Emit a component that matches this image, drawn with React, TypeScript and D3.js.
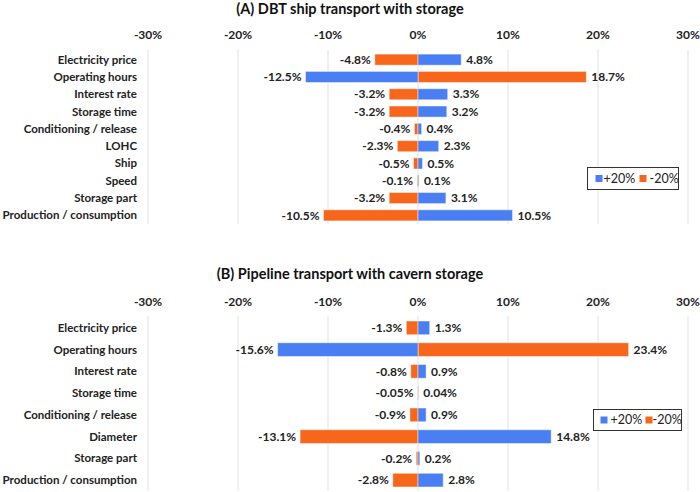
import React from "react";
import * as d3 from "d3";

const ticks = [-30, -20, -10, 0, 10, 20, 30];
const seriesNames = ["+20%", "-20%"];

const titleA = "(A) DBT ship transport with storage";
const catsA = ["Electricity price", "Operating hours", "Interest rate", "Storage time", "Conditioning / release", "LOHC", "Ship", "Speed", "Storage part", "Production / consumption"];
const plusA = [4.8, -12.5, 3.3, 3.2, 0.4, 2.3, 0.5, 0.1, 3.1, 10.5];
const minusA = [-4.8, 18.7, -3.2, -3.2, -0.4, -2.3, -0.5, -0.1, -3.2, -10.5];
const labelsPlusA = ["4.8%", "-12.5%", "3.3%", "3.2%", "0.4%", "2.3%", "0.5%", "0.1%", "3.1%", "10.5%"];
const labelsMinusA = ["-4.8%", "18.7%", "-3.2%", "-3.2%", "-0.4%", "-2.3%", "-0.5%", "-0.1%", "-3.2%", "-10.5%"];

const titleB = "(B) Pipeline transport with cavern storage";
const catsB = ["Electricity price", "Operating hours", "Interest rate", "Storage time", "Conditioning / release", "Diameter", "Storage part", "Production / consumption"];
const plusB = [1.3, -15.6, 0.9, 0.04, 0.9, 14.8, 0.2, 2.8];
const minusB = [-1.3, 23.4, -0.8, -0.05, -0.9, -13.1, -0.2, -2.8];
const labelsPlusB = ["1.3%", "-15.6%", "0.9%", "0.04%", "0.9%", "14.8%", "0.2%", "2.8%"];
const labelsMinusB = ["-1.3%", "23.4%", "-0.8%", "-0.05%", "-0.9%", "-13.1%", "-0.2%", "-2.8%"];

const BLUE = "#4a7ef3";
const ORANGE = "#f7661b";
const FONT = "Lato, 'Open Sans', sans-serif";

type PanelProps = {
  title: string;
  cats: string[];
  plus: number[];
  minus: number[];
  lp: string[];
  lm: string[];
  titleY: number;
  tickY: number;
  top: number;
  bottom: number;
  pad: number;
  legend: { x: number; y: number; w: number; h: number; s1: number; t1: number; s2: number; t2: number };
};

function Panel(p: PanelProps) {
  const x = d3.scaleLinear().domain([-30, 30]).range([148, 688]);
  const y = d3.scaleBand<string>().domain(p.cats).range([p.top, p.bottom]).paddingInner(p.pad).paddingOuter(p.pad / 2);
  const bw = y.bandwidth();
  const bar = (v: number, c: string, col: string) => (
    <rect key={c + col} x={x(Math.min(0, v))} y={y(c)!} width={Math.abs(x(v) - x(0))} height={bw} fill={col} stroke="#ffffff" strokeOpacity={0.45} strokeWidth={1} />
  );
  const label = (v: number, t: string, c: string, k: string) => (
    <text key={k} x={v < 0 ? x(v) - 4 : x(v) + 5} y={y(c)! + bw / 2} dy="0.35em" textAnchor={v < 0 ? "end" : "start"} fontWeight="bold" fontSize={12} fill="#222">{t}</text>
  );
  const L = p.legend;
  return (
    <g fontFamily={FONT}>
      <text x={350} y={p.titleY} textAnchor="middle" fontWeight="bold" fontSize={14.5} fill="#111">{p.title}</text>
      {ticks.map((t) => (
        <g key={t}>
          <line x1={x(t)} x2={x(t)} y1={p.top - 1} y2={p.bottom} stroke="#dde3e8" strokeWidth={1} />
          <text x={x(t)} y={p.tickY} dy="0.35em" textAnchor="middle" fontWeight="bold" fontSize={12} fill="#222">{t + "%"}</text>
        </g>
      ))}
      {p.cats.map((c) => (
        <text key={c} x={137} y={y(c)! + bw / 2} dy="0.35em" textAnchor="end" fontWeight="bold" fontSize={11.5} fill="#222">{c}</text>
      ))}
      {p.cats.map((c, i) => bar(p.minus[i], c, ORANGE))}
      {p.cats.map((c, i) => bar(p.plus[i], c, BLUE))}
      {p.cats.map((c, i) => label(p.plus[i], p.lp[i], c, "lp" + i))}
      {p.cats.map((c, i) => label(p.minus[i], p.lm[i], c, "lm" + i))}
      <g transform={`translate(${L.x},${L.y})`}>
        <rect x={0} y={0} width={L.w} height={L.h} fill="#fff" stroke="#333" strokeWidth={1} />
        <rect x={L.s1} y={L.h / 2 - 3.5} width={7} height={7} fill={BLUE} />
        <text x={L.t1} y={L.h / 2} dy="0.35em" fontSize={12.5} fill="#222">{seriesNames[0]}</text>
        <rect x={L.s2} y={L.h / 2 - 3.5} width={7} height={7} fill={ORANGE} />
        <text x={L.t2} y={L.h / 2} dy="0.35em" fontSize={12.5} fill="#222">{seriesNames[1]}</text>
      </g>
    </g>
  );
}

export default function App() {
  return (
    <svg width={700} height={492} style={{ position: "absolute", left: 0, top: 0, background: "#fff" }}>
      <rect width={700} height={492} fill="#fff" />
      <Panel title={titleA} cats={catsA} plus={plusA} minus={minusA} lp={labelsPlusA} lm={labelsMinusA}
        titleY={14} tickY={35} top={51} bottom={224} pad={0.36}
        legend={{ x: 587.5, y: 167.5, w: 91, h: 22, s1: 8, t1: 16, s2: 52, t2: 62 }} />
      <Panel title={titleB} cats={catsB} plus={plusB} minus={minusB} lp={labelsPlusB} lm={labelsMinusB}
        titleY={279} tickY={302} top={317} bottom={491} pad={0.37}
        legend={{ x: 593.5, y: 409.5, w: 88, h: 21, s1: 7, t1: 17, s2: 52, t2: 59 }} />
    </svg>
  );
}
